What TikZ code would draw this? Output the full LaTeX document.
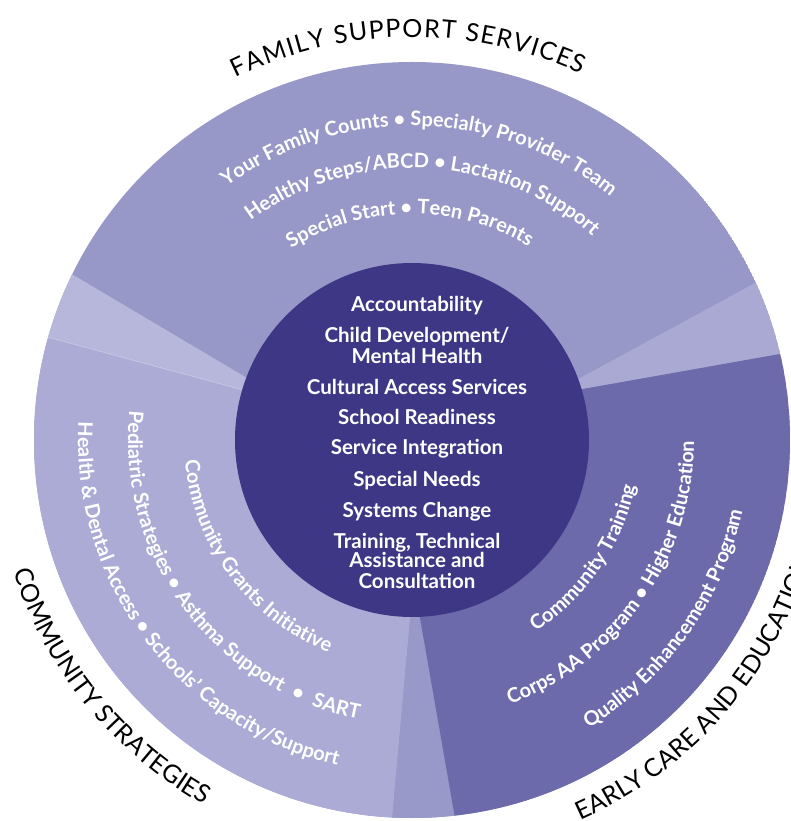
\documentclass[tikz,border=0pt]{standalone}
\usepackage{fontspec}
\setmainfont{Lato}
\usetikzlibrary{decorations.text,calc}
\definecolor{famc}{HTML}{9797C8}
\definecolor{wedgeL}{HTML}{B7B7DB}
\definecolor{commc}{HTML}{ABABD6}
\definecolor{wedgeB}{HTML}{9999C9}
\definecolor{earlyc}{HTML}{6C6AAA}
\definecolor{wedgeR}{HTML}{A9A9D3}
\definecolor{corec}{HTML}{3D3785}
\newcommand\arcfont{\fontsize{20}{22}\selectfont\bfseries}
\newcommand\capfont{\fontsize{25}{28}\selectfont}
\newcommand\corefont{\fontsize{20.5}{22}\selectfont\bfseries}
\begin{document}
\begin{tikzpicture}[x=1pt,y=1pt,
  intext/.style={decorate, decoration={text along path, text color=white, text align=center, text={|\arcfont|#1}}},
  captext/.style={decorate, decoration={text along path, text color=black, text align=center, text={|\capfont|#1}}},
  captextfit/.style={decorate, decoration={text along path, text color=black, text align=fit to path, text={|\capfont|#1}}},
  captextleft/.style={decorate, decoration={text along path, text color=black, text align=left, text={|\capfont|#1}}},
  corelabel/.style={anchor=base, text=white, font=\corefont, inner sep=0pt},
]
\useasboundingbox (-412,-381) rectangle (379,440);
\coordinate (ctr) at (0,0);
% boundary lines: inner point I, outer point O
\coordinate (I1) at (-165,62);  \coordinate (O1) at (-342,167);
\coordinate (I2) at (-169,50);  \coordinate (O2) at (-365,103);
\coordinate (I3) at (-2,-180);  \coordinate (O3) at (-20,-380);
\coordinate (I4) at (8,-178);   \coordinate (O4) at (43,-378);
\coordinate (I5) at (171,51);   \coordinate (O5) at (368,86);
\coordinate (I6) at (168,62);   \coordinate (O6) at (343,157);
\foreach \k in {1,...,6}{
  \coordinate (J\k) at ($(O\k)!1.2!(I\k)$);
  \coordinate (F\k) at ($(I\k)!2!(O\k)$);
}
\begin{scope}
  \clip (ctr) circle[radius=378pt];
  \fill[famc] (ctr) circle[radius=378pt];
  \fill[wedgeR] (ctr) -- (J5) -- (F5) -- (F6) -- (J6) -- cycle;
  \fill[wedgeL] (ctr) -- (J1) -- (F1) -- (F2) -- (J2) -- cycle;
  \fill[commc] (ctr) -- (J2) -- (F2) -- (200:700pt) -- (235:700pt) -- (F3) -- (J3) -- cycle;
  \fill[wedgeB] (ctr) -- (J3) -- (F3) -- (F4) -- (J4) -- cycle;
  \fill[earlyc] (ctr) -- (J4) -- (F4) -- (310:700pt) -- (345:700pt) -- (F5) -- (J5) -- cycle;
  \draw[white, opacity=.45, line width=.5pt] (I2) -- (O2);
\end{scope}
\node[circle, fill=corec, minimum size=354pt, inner sep=0pt] (core) at (ctr) {};
% core labels
\node[corelabel] (c1) at (5,128) {Accountability};
\node[corelabel] (c2) at (5,97) {Child Development/};
\node[corelabel] (c3) at (5,76) {Mental Health};
\node[corelabel] (c4) at (5,45) {Cultural Access Services};
\node[corelabel] (c5) at (5,15) {School Readiness};
\node[corelabel] (c6) at (5,-15) {Service Integration};
\node[corelabel] (c7) at (5,-47) {Special Needs};
\node[corelabel] (c8) at (5,-78) {Systems Change};
\node[corelabel] (c9) at (5,-108) {Training, Technical};
\node[corelabel] (c10) at (5,-128) {Assistance and};
\node[corelabel] (c11) at (5,-148) {Consultation};
% family support arcs
\path[intext={Your Family Counts • Specialty Provider Team}] (173.5:314pt) arc[start angle=173.5, end angle=3.5, radius=314pt];
\path[intext={Healthy Steps/ABCD • Lactation Support}] (172.4:272pt) arc[start angle=172.4, end angle=2.4, radius=272pt];
\path[intext={Special Start • Teen Parents}] (175.6:226pt) arc[start angle=175.6, end angle=5.6, radius=226pt];
% community strategies arcs
\path[intext={Health {\&} Dental Access • Schools’ Capacity/Support}] (132:334pt) arc[start angle=132, end angle=302, radius=334pt];
\path[intext={Pediatric Strategies • Asthma Support {\kern6pt}•{\kern6pt} SART}] (131.6:284pt) arc[start angle=131.6, end angle=301.6, radius=284pt];
\path[intext={Community Grants Initiative}] (131.9:228pt) arc[start angle=131.9, end angle=301.9, radius=228pt];
% early care arcs
\path[intext={Community Training}] (-119.4:228pt) arc[start angle=-119.4, end angle=50.6, radius=228pt];
\path[intext={Corps AA Program • Higher Education}] (-119.9:282pt) arc[start angle=-119.9, end angle=50.1, radius=282pt];
\path[intext={Quality Enhancement Program}] (-120.3:338pt) arc[start angle=-120.3, end angle=49.7, radius=338pt];
% captions
\path[captextfit={FAMILY SUPPORT SERVICES}] (116:403pt) arc[start angle=116, end angle=65.2, radius=403pt];
\path[captext={COMMUNITY STRATEGIES}] (134.3:420pt) arc[start angle=134.3, end angle=304.3, radius=420pt];
\path[captextleft={EARLY CARE AND EDUCATION}] (-66.1:416pt) arc[start angle=-66.1, end angle=40, radius=416pt];
\end{tikzpicture}
\end{document}
